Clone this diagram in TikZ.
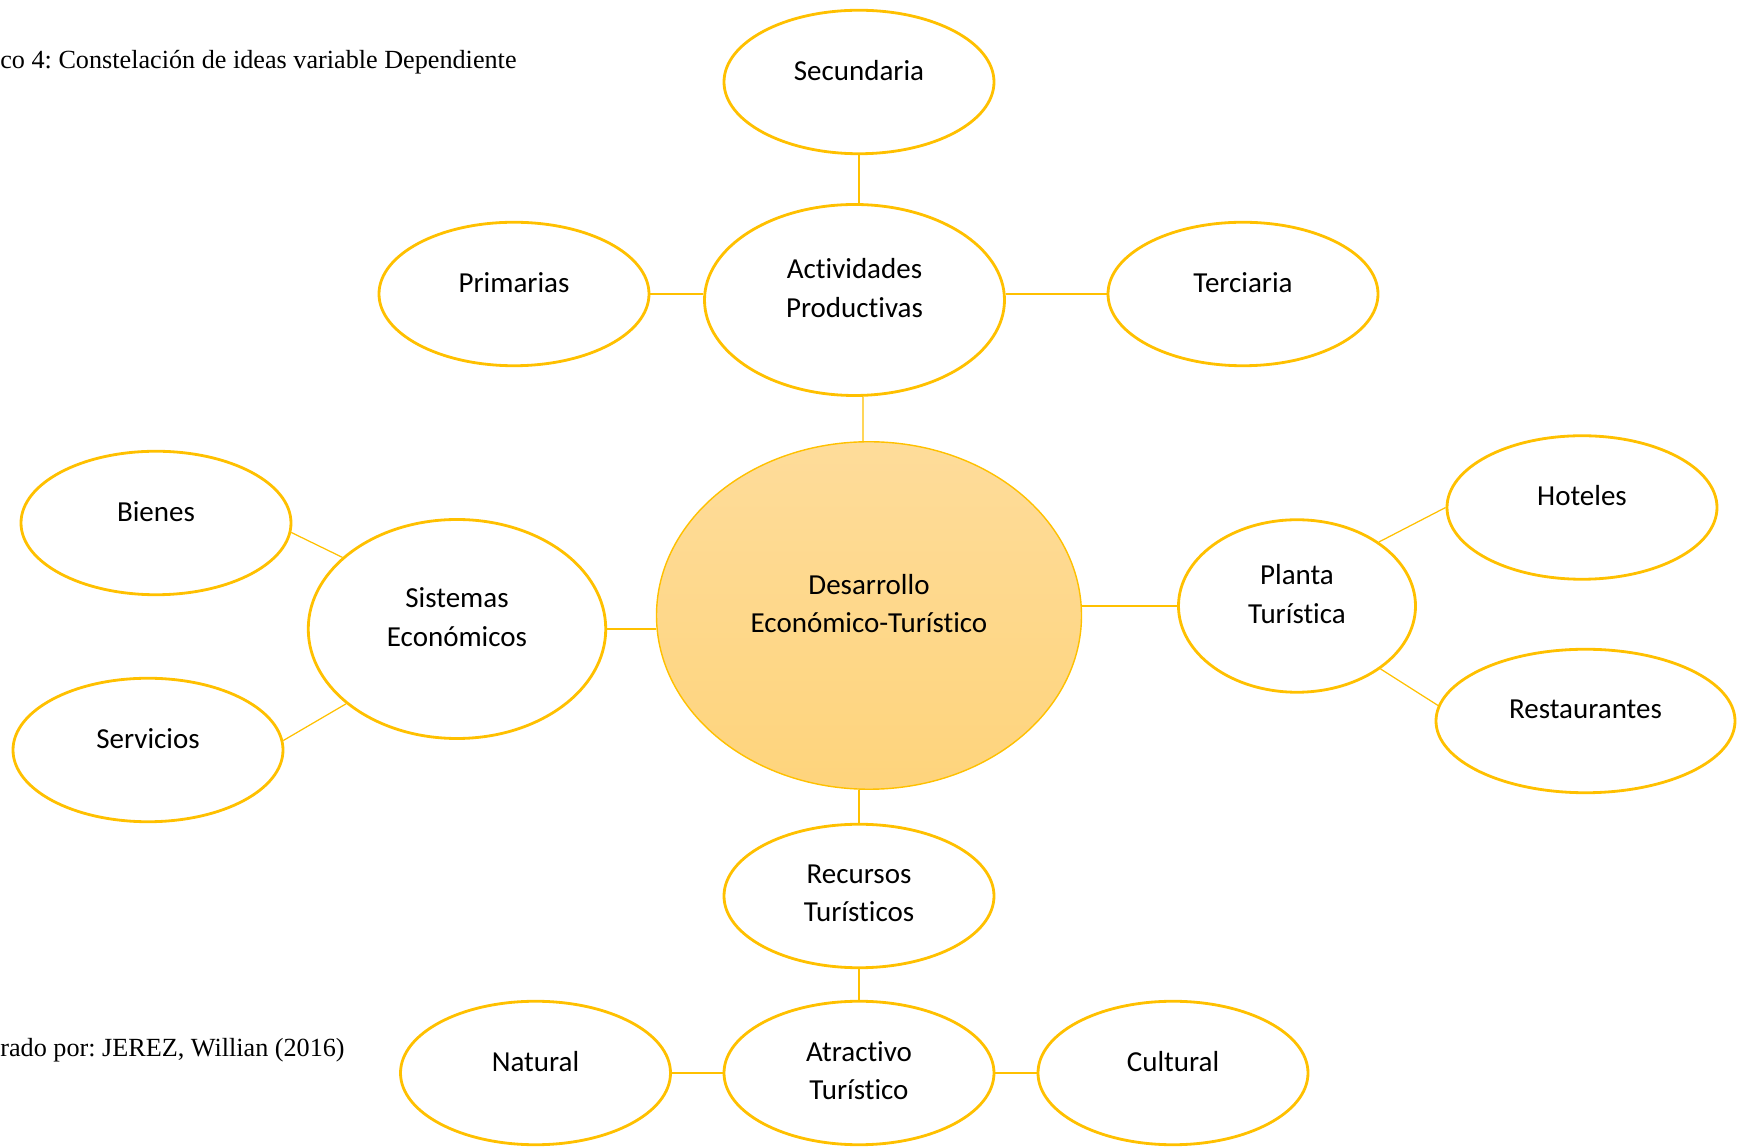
\documentclass[tikz,border=0pt]{standalone}
\usepackage{fontspec}
\setmainfont{Liberation Serif}
\newfontfamily\calibri{Carlito}[Ligatures={NoCommon}]
\usetikzlibrary{shapes.geometric}
\definecolor{gold}{HTML}{FFC000}
\definecolor{sandtop}{HTML}{FEDC9A}
\definecolor{sandbot}{HTML}{FED47C}
\frenchspacing

\begin{document}
\begin{tikzpicture}[
  idea/.style={ellipse,draw=gold,line width=1.6pt,align=center,inner sep=0pt,
    font=\calibri\fontsize{16.5pt}{22pt}\selectfont,text depth=13.6pt},
  small/.style={idea,minimum width=5.4cm,minimum height=2.87cm},
  link/.style={draw=gold,line width=0.7pt},
  caption/.style={anchor=base west,inner sep=0pt,font=\fontsize{14.9pt}{18pt}\selectfont}]
  \useasboundingbox (0,0) rectangle (34.74,22.94);

  % Captions on the left
  \node[caption] (title) at (0,21.56) {co 4: Constelación de ideas variable Dependiente};
  \node[caption] (credit) at (0,1.81) {rado por: JEREZ, Willian (2016)};

  % Central idea
  \node[idea,line width=0.8pt,top color=sandtop,bottom color=sandbot,
    minimum width=8.5cm,minimum height=6.95cm] (des) at (17.38,10.63)
    {Desarrollo\\Económico-Turístico};

  % Top branch
  \node[small] (sec) at (17.18,21.30) {Secundaria};
  \node[idea,minimum width=6.0cm,minimum height=3.82cm] (act) at (17.09,16.94) {Actividades\\Productivas};
  \node[small] (prim) at (10.28,17.06) {Primarias};
  \node[small] (ter) at (24.86,17.06) {Terciaria};

  % Left branch
  \node[idea,minimum width=5.95cm,minimum height=4.38cm] (sis) at (9.14,10.36) {Sistemas\\Económicos};
  \node[small] (bie) at (3.12,12.48) {Bienes};
  \node[small] (ser) at (2.96,7.94) {Servicios};

  % Right branch
  \node[idea,minimum width=4.74cm,minimum height=3.45cm] (pla) at (25.94,10.82) {Planta\\Turística};
  \node[small] (hot) at (31.64,12.79) {Hoteles};
  \node[small,minimum width=5.98cm] (res) at (31.71,8.52) {Restaurantes};

  % Bottom branch (text sits in the middle here)
  \node[small,text depth=3pt] (rec) at (17.18,5.02) {Recursos\\Turísticos};
  \node[small,text depth=3pt] (atr) at (17.18,1.48) {Atractivo\\Turístico};
  \node[small] (nat) at (10.71,1.48) {Natural};
  \node[small] (cul) at (23.46,1.48) {Cultural};

  % Connectors
  \draw[link] (sec.south) -- (sec.south |- act.north);
  \draw[link] (prim.east) -- (prim.east -| act.west);
  \draw[link] (ter.west) -- (ter.west -| act.east);
  \draw[link] (act.-85) -- (des.92);
  \draw[link] (sis.east) -- (sis.east -| des.west);
  \draw[link] (bie.-4) -- (sis.148);
  \draw[link] (ser.4) -- (sis.-146);
  \draw[link] (pla.west) -- (pla.west -| des.east);
  \draw[link] (pla.38) -- (hot.180);
  \draw[link] (pla.-37) -- (res.174);
  \draw[link] (rec.north) -- (rec.north |- des.south);
  \draw[link] (rec.south) -- (atr.north);
  \draw[link] (nat.east) -- (atr.west);
  \draw[link] (atr.east) -- (cul.west);
\end{tikzpicture}
\end{document}
